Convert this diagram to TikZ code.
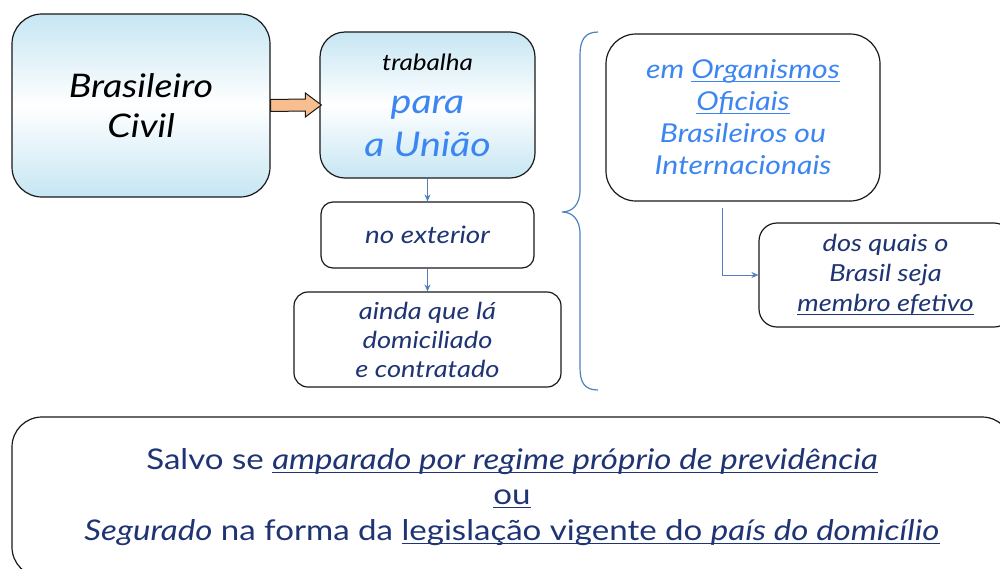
\documentclass[tikz,border=0pt]{standalone}
\usepackage{fontspec}
\setmainfont{Lato}[FakeStretch=1.16]
\usepackage{graphicx}
\usetikzlibrary{arrows.meta,calc}
\newcommand\myul[2][3.5pt]{\setbox0\hbox{#2}\rlap{\rule[-#1]{\wd0}{1.4pt}}\box0}
\definecolor{lb}{HTML}{C6E6F3}
\definecolor{tblue}{HTML}{3C86F2}
\definecolor{navy}{HTML}{1F3473}
\definecolor{conncol}{HTML}{4F81BD}
\definecolor{orangefill}{HTML}{F9BE8F}
\definecolor{edge}{HTML}{1A1A1A}
\tikzset{
  gradbox/.style={draw=edge, line width=1.2pt, top color=lb, bottom color=lb, middle color=white, align=center, inner sep=0pt},
  whitebox/.style={draw=edge, line width=1.2pt, fill=white, align=center, inner sep=0pt},
  conn/.style={draw=conncol, line width=1pt, -{Stealth[length=7pt,width=6pt]}},
  orangearrow/.style={draw=edge, line width=1pt, fill=orangefill, line join=miter},
}
\begin{document}
\begin{tikzpicture}[x=1pt,y=-1pt]
\useasboundingbox (0,0) rectangle (1000,568);
\clip (0,0) rectangle (1000,568);
\fill[white] (0,0) rectangle (1000,568);

\node[gradbox, rounded corners=30pt, minimum width=258pt, minimum height=183pt,
      font=\fontsize{32.5}{40}\selectfont\itshape] (A) at (141,105.5)
  {Brasileiro\\ Civil};

\node[gradbox, rounded corners=25pt, minimum width=215pt, minimum height=146pt,
      font=\fontsize{34}{43}\selectfont\itshape, text=tblue] (B) at (427.5,105)
  {{\fontsize{22.5}{26}\selectfont\color{black}trabalha}\\ para\\ a União};

\node[whitebox, rounded corners=12pt, minimum width=213pt, minimum height=66pt,
      font=\fontsize{24}{29}\selectfont\itshape, text=navy] (C) at (427.5,235)
  {no exterior};

\node[whitebox, rounded corners=14pt, minimum width=267pt, minimum height=95pt,
      font=\fontsize{23.5}{29}\selectfont\itshape, text=navy] (D) at (427.5,339.5)
  {ainda que lá\\ domiciliado\\ e contratado};

\node[whitebox, rounded corners=30pt, minimum width=274pt, minimum height=167pt,
      font=\fontsize{26}{32}\selectfont\itshape, text=tblue] (E) at (743,117.5)
  {em \myul{\itshape Organismos}\\ \myul{\itshape Oficiais}\\ Brasileiros ou\\ Internacionais};

\node[whitebox, rounded corners=18pt, minimum width=253pt, minimum height=104pt,
      font=\fontsize{23.5}{30}\selectfont\itshape, text=navy] (F) at (885.5,275)
  {dos quais o\\ Brasil seja\\ \myul{\itshape membro efetivo}};

\node[whitebox, rounded corners=30pt, minimum width=1000pt, minimum height=160pt,
      font=\fontsize{28.5}{35.5}\selectfont, text=navy] (G) at (512,497)
  {Salvo se \myul{\itshape amparado por regime próprio de previdência}\\
   \myul{ou}\\
   {\itshape Segurado} na forma da \myul{legislação vigente do {\itshape país do domicílio}}};

% orange block arrow A -> B
\draw[orangearrow] ($(A.east)+(0,-6)$) -- ($(B.west)+(-14,-6)$) -- ($(B.west)+(-14,-12)$)
  -- ($(B.west)+(2,0)$) -- ($(B.west)+(-14,12)$) -- ($(B.west)+(-14,6)$) -- ($(A.east)+(0,6)$) -- cycle;

\draw[conn] (B.south) -- (C.north);
\draw[conn] (C.south) -- (D.north);
\coordinate (Estart) at ($(E.south)+(-21,6)$);
\draw[conn] (Estart) |- (F.west);

% brace
\coordinate (brtop) at (598,32);
\coordinate (brtip) at (562,212);
\coordinate (brbot) at (598,390);
\draw[conncol, line width=1.2pt] (brtop) .. controls (585,32) and (580,40) .. (580,55)
  -- (580,190) .. controls (580,205) and (572,212) .. (brtip)
  .. controls (572,212) and (580,219) .. (580,234)
  -- (580,368) .. controls (580,383) and (585,390) .. (brbot);
\end{tikzpicture}
\end{document}
